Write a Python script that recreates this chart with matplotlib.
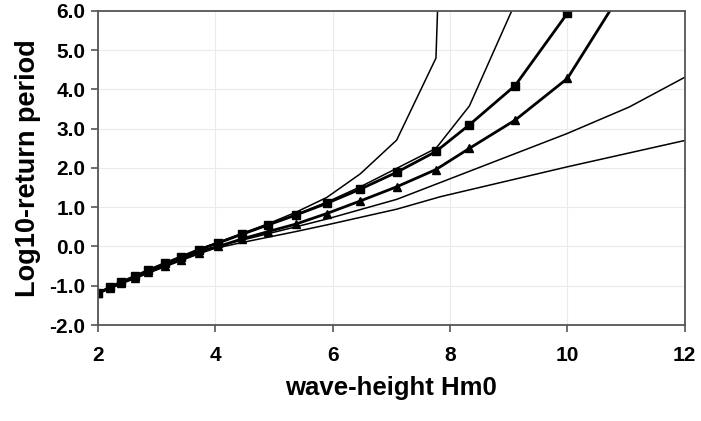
import matplotlib
matplotlib.use("Agg")
import matplotlib.pyplot as plt
from matplotlib.ticker import FormatStrFormatter

# marker curves share the same wave-height steps
hm0_marks = [2.0, 2.2, 2.4, 2.63, 2.86, 3.14, 3.42, 3.72, 4.05, 4.45, 4.9,
             5.37, 5.9, 6.47, 7.09, 7.76, 8.33, 9.11, 10.0]
logT_square = [-1.19, -1.04, -0.90, -0.76, -0.60, -0.43, -0.26, -0.08, 0.09,
               0.31, 0.55, 0.80, 1.10, 1.46, 1.89, 2.42, 3.10, 4.10, 5.94]
hm0_tri = hm0_marks + [10.85]
logT_tri = [-1.19, -1.06, -0.93, -0.80, -0.66, -0.50, -0.34, -0.17, 0.0,
            0.19, 0.38, 0.57, 0.84, 1.16, 1.52, 1.96, 2.50, 3.22, 4.28, 6.3]

# thin lines
hm0_a = [2.0, 3.72, 4.45, 4.9, 5.37, 5.9, 6.47, 7.09, 7.76, 7.80]
logT_a = [-1.19, -0.07, 0.33, 0.58, 0.87, 1.25, 1.85, 2.71, 4.80, 6.6]
hm0_b = [2.0, 3.72, 4.45, 4.9, 5.37, 5.9, 6.47, 7.09, 7.76, 8.33, 9.11]
logT_b = [-1.19, -0.08, 0.31, 0.55, 0.81, 1.13, 1.52, 1.99, 2.50, 3.58, 6.2]
hm0_c = [2.0, 3.74, 4.45, 5.37, 5.9, 7.09, 7.87, 10.0, 11.05, 12.0]
logT_c = [-1.18, -0.10, 0.16, 0.50, 0.70, 1.20, 1.65, 2.88, 3.55, 4.31]
hm0_d = [2.0, 3.0, 3.74, 4.45, 5.37, 5.9, 7.09, 7.84, 10.0, 12.0]
logT_d = [-1.18, -0.58, -0.13, 0.10, 0.38, 0.55, 0.95, 1.27, 2.03, 2.70]


def main():
    plt.rcParams["font.family"] = ["Liberation Sans", "DejaVu Sans"]
    plt.rcParams["font.weight"] = "bold"

    fig = plt.figure(figsize=(7.01, 4.21), dpi=100)
    ax = fig.add_axes([0.1398, 0.228, 0.837, 0.746])

    for xs, ys in [(hm0_a, logT_a), (hm0_b, logT_b), (hm0_c, logT_c), (hm0_d, logT_d)]:
        ax.plot(xs, ys, color="black", lw=1.1)
    ax.plot(hm0_tri, logT_tri, color="black", lw=2.0, marker="^", ms=6)
    ax.plot(hm0_marks, logT_square, color="black", lw=2.0, marker="s", ms=6)

    ax.set_xlim(2, 12)
    ax.set_ylim(-2, 6)
    ax.set_xticks(range(2, 13, 2))
    ax.set_yticks(range(-2, 7))
    ax.yaxis.set_major_formatter(FormatStrFormatter("%.1f"))
    ax.grid(True, color="#ebebeb", lw=0.8)
    ax.set_axisbelow(True)

    for s in ax.spines.values():
        s.set_color("#555555")
        s.set_linewidth(1.3)
    ax.tick_params(direction="out", length=5, width=1.2, color="#555555",
                   labelsize=15, pad=4)
    ax.tick_params(axis="x", pad=10)

    ax.set_xlabel("wave-height Hm0", fontsize=18.5, fontweight="bold", labelpad=8)
    ax.set_ylabel("Log10-return period", fontsize=19.5, fontweight="bold", labelpad=6)

    plt.savefig("out.png", dpi=100)


if __name__ == "__main__":
    main()
